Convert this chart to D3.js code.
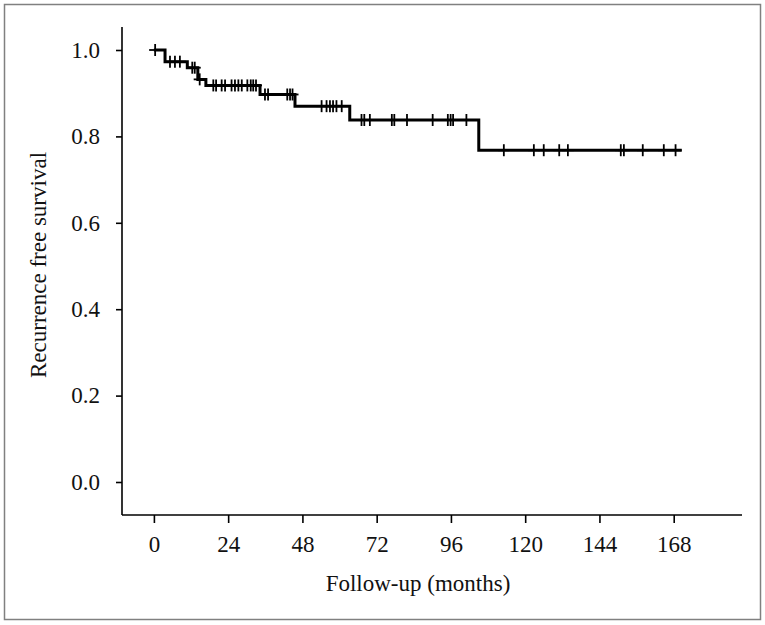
<!DOCTYPE html>
<html>
<head>
<meta charset="utf-8">
<script src="https://cdn.jsdelivr.net/npm/d3@7"></script>
<style>
  html, body { margin: 0; padding: 0; background: #fff; }
  svg { display: block; }
  text { font-family: "Liberation Serif", "DejaVu Serif", serif; fill: #111; }
</style>
</head>
<body>
<svg id="chart" width="765" height="625"></svg>
<script>
// ---- data ----
const stepTimes = [0, 3.6, 10.8, 14.2, 16.8, 34.3, 45.6, 63.3, 105.0];
const stepSurv  = [1.0, 0.973, 0.959, 0.932, 0.918, 0.897, 0.870, 0.838, 0.768];
const endTime = 170.6;
const censorTimes = [0.4, 5.2, 6.8, 8.4, 12.4, 13.2, 14.8,
  19.2, 20.1, 21.9, 23.0, 25.1, 26.2, 27.3, 28.4, 30.2, 31.3, 32.1, 33.0,
  35.9, 36.9, 43.1, 44.0, 44.8,
  54.2, 55.8, 56.9, 57.9, 59.0, 60.7,
  67.1, 68.0, 69.8, 76.9, 77.7, 81.8, 90.1, 95.0, 95.9, 96.7, 101.0,
  113.1, 122.8, 126.0, 131.0, 133.8, 150.9, 151.9, 158.0, 164.8, 168.6];
const xTicks = [0, 24, 48, 72, 96, 120, 144, 168];
const yTicks = [0.0, 0.2, 0.4, 0.6, 0.8, 1.0];
const xTitle = "Follow-up (months)";
const yTitle = "Recurrence free survival";

// ---- layout ----
const FS = "23px";
const svg = d3.select("#chart");
svg.append("rect").attr("x", 4.5).attr("y", 4.5).attr("width", 756).attr("height", 615)
  .attr("fill", "none").attr("stroke", "#808080").attr("stroke-width", 1.5);

const x = d3.scaleLinear().domain([0, 168]).range([153.9, 673.7]);
const y = d3.scaleLinear().domain([0, 1]).range([482, 50]);
const axisX0 = 122, axisY0 = 515;

// y axis
const gy = svg.append("g").attr("transform", `translate(${axisX0},0)`)
  .call(d3.axisLeft(y).tickValues(yTicks).tickFormat(d3.format(".1f")).tickSize(6).tickPadding(16));
gy.select(".domain").remove();
gy.append("line").attr("x1", 0).attr("x2", 0).attr("y1", 27).attr("y2", axisY0)
  .attr("stroke", "#000").attr("stroke-width", 1.6);
gy.selectAll(".tick line").attr("stroke", "#000").attr("stroke-width", 1.6);
gy.selectAll(".tick text").style("font-size", FS).style("font-family", "Liberation Serif").attr("fill", "#111");

// x axis
const gx = svg.append("g").attr("transform", `translate(0,${axisY0})`)
  .call(d3.axisBottom(x).tickValues(xTicks).tickSize(8).tickPadding(13));
gx.select(".domain").remove();
gx.append("line").attr("x1", axisX0).attr("x2", 742).attr("y1", 0).attr("y2", 0)
  .attr("stroke", "#000").attr("stroke-width", 1.6);
gx.selectAll(".tick line").attr("stroke", "#000").attr("stroke-width", 1.6);
gx.selectAll(".tick text").style("font-size", FS).style("font-family", "Liberation Serif").attr("fill", "#111");

// titles
svg.append("text").attr("x", 418).attr("y", 591).attr("text-anchor", "middle")
  .style("font-size", FS).text(xTitle);
svg.append("text").attr("transform", "translate(46,265) rotate(-90)").attr("text-anchor", "middle")
  .style("font-size", FS).text(yTitle);

// KM step line
const pts = stepTimes.map((t, i) => [t, stepSurv[i]]);
pts.push([endTime, stepSurv[stepSurv.length - 1]]);
const line = d3.line().x(d => x(d[0])).y(d => y(d[1])).curve(d3.curveStepAfter);
svg.append("path").datum(pts).attr("d", line)
  .attr("fill", "none").attr("stroke", "#000").attr("stroke-width", 3);

// censor marks
function survAt(t) {
  let s = stepSurv[0];
  for (let i = 0; i < stepTimes.length; i++) if (stepTimes[i] <= t) s = stepSurv[i];
  return s;
}
const cg = svg.append("g");
censorTimes.forEach(t => {
  const cx = x(t), cy = y(survAt(t));
  cg.append("line").attr("x1", cx).attr("x2", cx).attr("y1", cy - 6).attr("y2", cy + 6)
    .attr("stroke", "#000").attr("stroke-width", 1.8);
  cg.append("line").attr("x1", cx - 6).attr("x2", cx + 6).attr("y1", cy).attr("y2", cy)
    .attr("stroke", "#000").attr("stroke-width", 1.8);
});
</script>
</body>
</html>
